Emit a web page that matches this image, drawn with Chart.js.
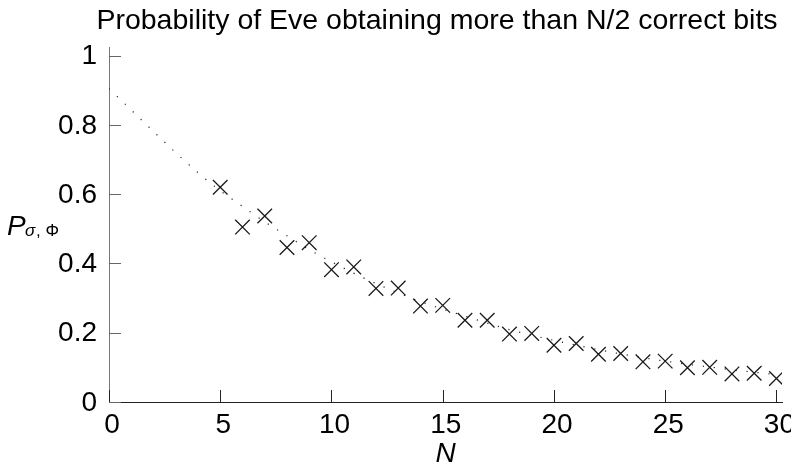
<!DOCTYPE html>
<html><head><meta charset="utf-8">
<script src="https://cdn.jsdelivr.net/npm/chart.js@4/dist/chart.umd.min.js"></script>
<style>html,body{margin:0;padding:0;background:#fff;overflow:hidden;width:791px;height:468px}</style>
</head><body>
<canvas id="c" width="800" height="468" style="display:block;width:800px;height:468px"></canvas>
<script>
const titleText = "Probability of Eve obtaining more than N/2 correct bits";
const xTitle = "N";
const yTitleMain = "P";
const yTitleSub = ["σ", ",", "Φ"];
const xTickValues = [0, 5, 10, 15, 20, 25, 30];
const yTickValues = [0, 0.2, 0.4, 0.6, 0.8, 1];
const markerN = [5, 6, 7, 8, 9, 10, 11, 12, 13, 14, 15, 16, 17, 18, 19, 20, 21, 22, 23, 24, 25, 26, 27, 28, 29, 30];
const markerP = [0.620, 0.505, 0.537, 0.446, 0.460, 0.382, 0.390, 0.328, 0.329, 0.277, 0.279, 0.236, 0.236, 0.196, 0.198,
                 0.164, 0.169, 0.138, 0.140, 0.116, 0.118, 0.099, 0.100, 0.081, 0.083, 0.068];
const curveN = [0, 1, 2, 3, 4, 5, 6, 7, 8, 9, 10, 11, 12, 13, 14, 15, 16, 17, 18, 19, 20, 21, 22, 23, 24, 25, 26, 27, 28, 29, 30];
const curveP = [0.905, 0.843, 0.781, 0.720, 0.662, 0.610, 0.565, 0.520, 0.480, 0.440, 0.405, 0.372, 0.342, 0.315, 0.290,
                0.268, 0.248, 0.228, 0.209, 0.193, 0.178, 0.164, 0.151, 0.139, 0.128, 0.118, 0.109, 0.101, 0.093, 0.086, 0.079];

const FONT = "'Liberation Sans', Arial, Helvetica, sans-serif";

const decor = {
  id: 'decor',
  afterDraw(chart) {
    const ctx = chart.ctx, ca = chart.chartArea;
    const xs = chart.scales.x, ys = chart.scales.y;
    ctx.save();
    // inward ticks
    ctx.lineWidth = 1;
    ctx.strokeStyle = '#222';
    xTickValues.forEach(v => {
      const px = Math.round(xs.getPixelForValue(v)) + 0.5;
      ctx.beginPath(); ctx.moveTo(px, ca.bottom); ctx.lineTo(px, ca.bottom - 12); ctx.stroke();
    });
    ctx.strokeStyle = '#666';
    yTickValues.forEach(v => {
      const py = Math.round(ys.getPixelForValue(v)) + 0.5;
      ctx.beginPath(); ctx.moveTo(ca.left, py); ctx.lineTo(ca.left + 12, py); ctx.stroke();
    });
    // title
    ctx.fillStyle = '#000';
    ctx.textBaseline = 'alphabetic';
    ctx.textAlign = 'center';
    ctx.font = '28.5px ' + FONT;
    ctx.fillText(titleText, 437, 29);
    // y title
    ctx.textAlign = 'left';
    ctx.font = 'italic 28px ' + FONT;
    ctx.fillText(yTitleMain, 7, 235);
    ctx.font = 'italic 17px ' + FONT;
    ctx.fillText(yTitleSub[0], 25, 236);
    ctx.font = '17px ' + FONT;
    ctx.fillText(yTitleSub[1], 36, 236);
    ctx.fillText(yTitleSub[2], 45.5, 236);
    ctx.restore();
  }
};

new Chart(document.getElementById('c'), {
  type: 'scatter',
  data: {
    datasets: [
      {
        label: 'curve',
        data: curveN.map((n, i) => ({x: n, y: curveP[i]})),
        showLine: true,
        borderColor: '#222',
        borderWidth: 1.2,
        borderDash: [1.2, 9.8],
        pointRadius: 0,
        cubicInterpolationMode: 'monotone',
        fill: false,
        order: 2
      },
      {
        label: 'P',
        data: markerN.map((n, i) => ({x: n, y: markerP[i]})),
        showLine: false,
        pointStyle: 'crossRot',
        pointRadius: 10.3,
        pointBorderWidth: 1.3,
        pointBorderColor: '#1a1a1a',
        pointBackgroundColor: '#1a1a1a',
        order: 1
      }
    ]
  },
  options: {
    responsive: false,
    animation: false,
    devicePixelRatio: 1,
    layout: {padding: {left: 0, right: 18, top: 47, bottom: 0}},
    plugins: {legend: {display: false}, tooltip: {enabled: false}, title: {display: false}},
    scales: {
      x: {
        type: 'linear', min: 0, max: 30.25,
        afterBuildTicks: s => { s.ticks = xTickValues.map(v => ({value: v})); },
        afterFit: s => { s.height = 66; },
        grid: {display: false, drawTicks: false},
        border: {display: true, color: '#222', width: 1},
        ticks: {color: '#000', padding: 6, labelOffset: 3, maxRotation: 0, autoSkip: false,
                font: {family: FONT, size: 28, lineHeight: 1.2},
                callback: v => String(v)},
        title: {display: true, text: xTitle, color: '#000', padding: {top: 0, bottom: 0},
                font: {family: FONT, size: 28, style: 'italic', lineHeight: 1}}
      },
      y: {
        type: 'linear', min: 0, max: 1.025,
        afterBuildTicks: s => { s.ticks = yTickValues.map(v => ({value: v})); },
        afterFit: s => { s.width = 109; },
        grid: {display: false, drawTicks: false},
        border: {display: true, color: '#777', width: 1},
        ticks: {color: '#000', padding: 12, labelOffset: 1, autoSkip: false,
                font: {family: FONT, size: 28, lineHeight: 1.2},
                callback: v => String(Math.round(v * 10) / 10)}
      }
    }
  },
  plugins: [decor]
});
</script>
</body></html>
